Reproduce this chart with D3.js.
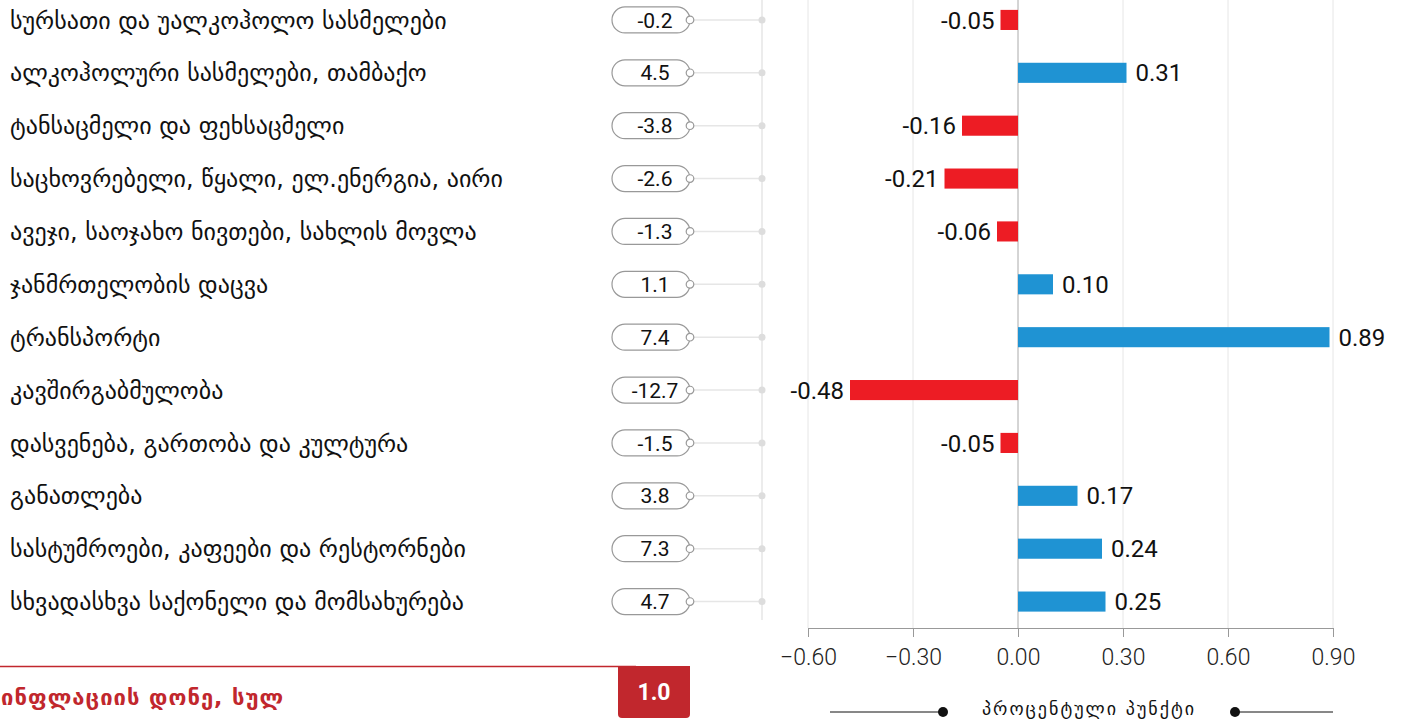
<!DOCTYPE html>
<html>
<head>
<meta charset="utf-8">
<script src="https://cdn.jsdelivr.net/npm/d3@7.9.0/dist/d3.min.js"></script>
<style>
  body { margin: 0; background: #fff; font-family: "DejaVu Sans", sans-serif; }
  svg { display: block; }
</style>
</head>
<body>
<svg id="chart" width="1407" height="720"></svg>
<script>
const categories = [
  "სურსათი და უალკოჰოლო სასმელები",
  "ალკოჰოლური სასმელები, თამბაქო",
  "ტანსაცმელი და ფეხსაცმელი",
  "საცხოვრებელი, წყალი, ელ.ენერგია, აირი",
  "ავეჯი, საოჯახო ნივთები, სახლის მოვლა",
  "ჯანმრთელობის დაცვა",
  "ტრანსპორტი",
  "კავშირგაბმულობა",
  "დასვენება, გართობა და კულტურა",
  "განათლება",
  "სასტუმროები, კაფეები და რესტორნები",
  "სხვადასხვა საქონელი და მომსახურება"
];
const annualChange = ["-0.2", "4.5", "-3.8", "-2.6", "-1.3", "1.1", "7.4", "-12.7", "-1.5", "3.8", "7.3", "4.7"];
const contribution = [-0.05, 0.31, -0.16, -0.21, -0.06, 0.10, 0.89, -0.48, -0.05, 0.17, 0.24, 0.25];
const xTicks = [-0.6, -0.3, 0, 0.3, 0.6, 0.9];
const totalLabel = "ინფლაციის დონე, სულ";
const totalValue = "1.0";
const unitLabel = "პროცენტული პუნქტი";

const svg = d3.select("#chart");
const x = d3.scaleLinear().domain([-0.6, 0.9]).range([808, 1333]);
const y = d3.scaleBand().domain(d3.range(categories.length)).range([-6.5, 628]).paddingInner(0.62).paddingOuter(0.31);
const mid = i => y(i) + y.bandwidth() / 2;

// grid
svg.append("g").selectAll("line").data(xTicks).join("line")
  .attr("x1", d => x(d)).attr("x2", d => x(d))
  .attr("y1", 0).attr("y2", 628)
  .attr("stroke", d => d === 0 ? "#aaa" : "#e6e6e6")
  .attr("stroke-width", 1);

// axis
const axis = svg.append("g").attr("transform", "translate(0,628)")
  .call(d3.axisBottom(x).tickValues(xTicks).tickFormat(d3.format(".2f")).tickSize(9).tickSizeOuter(0));
axis.select(".domain").attr("stroke", "#999");
axis.selectAll(".tick line").attr("stroke", "#999");
axis.selectAll(".tick text").attr("font-family", "Roboto, sans-serif").attr("font-weight", 300)
  .attr("font-size", 23).attr("fill", "#222").attr("dy", "1.1em");

// bars
svg.append("g").selectAll("rect").data(contribution).join("rect")
  .attr("x", d => x(Math.min(0, d)))
  .attr("width", d => Math.abs(x(d) - x(0)))
  .attr("y", (d, i) => y(i))
  .attr("height", y.bandwidth())
  .attr("fill", d => d < 0 ? "#ed1c24" : "#1f93d3");

svg.append("g").selectAll("text").data(contribution).join("text")
  .attr("x", d => d < 0 ? x(d) - 6 : x(d) + 9)
  .attr("y", (d, i) => mid(i))
  .attr("dy", "0.36em")
  .attr("text-anchor", d => d < 0 ? "end" : "start")
  .attr("font-family", "Roboto, sans-serif").attr("font-size", 24).attr("fill", "#111")
  .text(d => d.toFixed(2));

// category labels
svg.append("g").selectAll("text").data(categories).join("text")
  .attr("x", 10).attr("y", (d, i) => mid(i)).attr("dy", "0.36em")
  .attr("font-size", 24).attr("fill", "#111")
  .text(d => d);

// connector spine
svg.append("line").attr("x1", 762).attr("x2", 762).attr("y1", 0).attr("y2", 620)
  .attr("stroke", "#e6e6e6").attr("stroke-width", 1.5);

const pills = svg.append("g").selectAll("g").data(annualChange).join("g")
  .attr("transform", (d, i) => `translate(0,${mid(i)})`);
pills.append("line").attr("x1", 694).attr("x2", 762).attr("y1", 0).attr("y2", 0)
  .attr("stroke", "#e6e6e6").attr("stroke-width", 1.5);
pills.append("circle").attr("cx", 762).attr("cy", 0).attr("r", 3.5).attr("fill", "#ddd");
pills.append("rect").attr("x", 612).attr("y", -13).attr("width", 78).attr("height", 26).attr("rx", 13)
  .attr("fill", "#fff").attr("stroke", "#999").attr("stroke-width", 1.2);
pills.append("circle").attr("cx", 690).attr("cy", 0).attr("r", 3.8)
  .attr("fill", "#fff").attr("stroke", "#999").attr("stroke-width", 1.2);
pills.append("text").attr("x", 655).attr("y", 0).attr("dy", "0.36em").attr("text-anchor", "middle")
  .attr("font-family", "Roboto, sans-serif").attr("font-size", 21).attr("fill", "#111")
  .text(d => d);

// total
svg.append("line").attr("x1", 0).attr("x2", 636).attr("y1", 666.5).attr("y2", 666.5)
  .attr("stroke", "#c1272d").attr("stroke-width", 1.5);
svg.append("path")
  .attr("d", "M618,666 H690 V714 Q690,718 686,718 H622 Q618,718 618,714 Z")
  .attr("fill", "#c1272d");
svg.append("text").attr("x", 654).attr("y", 692).attr("dy", "0.36em").attr("text-anchor", "middle")
  .attr("font-family", "Roboto, sans-serif").attr("font-weight", 700).attr("font-size", 23).attr("fill", "#fff")
  .text(totalValue);
svg.append("text").attr("x", 1).attr("y", 697).attr("dy", "0.36em")
  .attr("font-weight", 700).attr("font-size", 22).attr("fill", "#c1272d").attr("letter-spacing", 1)
  .text(totalLabel);

// unit legend
const lg = svg.append("g");
lg.append("line").attr("x1", 830).attr("x2", 943).attr("y1", 712).attr("y2", 712).attr("stroke", "#111");
lg.append("circle").attr("cx", 943).attr("cy", 712).attr("r", 5).attr("fill", "#111");
lg.append("line").attr("x1", 1235).attr("x2", 1333).attr("y1", 712).attr("y2", 712).attr("stroke", "#111");
lg.append("circle").attr("cx", 1235).attr("cy", 712).attr("r", 5).attr("fill", "#111");
lg.append("text").attr("x", 1089).attr("y", 709).attr("dy", "0.36em").attr("text-anchor", "middle")
  .attr("font-size", 18).attr("fill", "#111").attr("letter-spacing", 2)
  .text(unitLabel);
</script>
</body>
</html>
